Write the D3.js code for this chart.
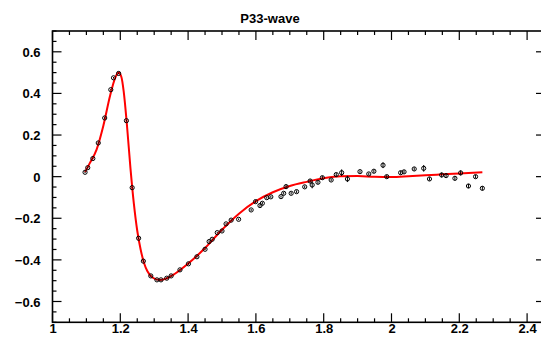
<!DOCTYPE html>
<html><head><meta charset="utf-8">
<script src="https://cdn.jsdelivr.net/npm/d3@7"></script>
<style>body{margin:0;background:#fff}svg{display:block}text{font-family:"Liberation Sans",Arial,sans-serif;font-weight:bold;fill:#000}</style>
</head><body><svg id="c" width="541" height="337"></svg>
<script>
const title = "P33-wave";
const xTicks = [1, 1.2, 1.4, 1.6, 1.8, 2, 2.2, 2.4];
const yTicks = [-0.6, -0.4, -0.2, 0, 0.2, 0.4, 0.6];
// data points
const ptX = [1.096,1.104,1.119,1.135,1.154,1.172,1.180,1.195,1.218,1.235,1.254,1.268,1.290,1.308,1.320,1.337,1.350,1.376,1.401,1.426,1.450,1.462,1.471,1.486,1.500,1.512,1.527,1.549,1.586,1.599,1.612,1.619,1.632,1.644,1.674,1.682,1.689,1.704,1.720,1.744,1.760,1.766,1.783,1.796,1.822,1.837,1.853,1.870,1.907,1.933,1.948,1.975,1.986,2.027,2.037,2.067,2.095,2.112,2.148,2.161,2.187,2.204,2.227,2.248,2.268];
const ptY = [0.021,0.043,0.087,0.162,0.282,0.418,0.475,0.496,0.269,-0.053,-0.296,-0.406,-0.477,-0.496,-0.496,-0.488,-0.477,-0.448,-0.419,-0.385,-0.349,-0.312,-0.301,-0.269,-0.261,-0.227,-0.209,-0.205,-0.160,-0.120,-0.139,-0.128,-0.101,-0.097,-0.096,-0.080,-0.048,-0.080,-0.072,-0.049,-0.021,-0.040,-0.027,-0.005,-0.016,0.010,0.019,-0.011,0.024,0.013,0.026,0.055,0.000,0.019,0.023,0.037,0.040,-0.011,0.008,0.005,-0.008,0.018,-0.045,0.000,-0.056];
const ptErr = [0.004,0.004,0.004,0.004,0.004,0.004,0.004,0.004,0.004,0.004,0.004,0.004,0.004,0.004,0.004,0.004,0.004,0.004,0.004,0.004,0.004,0.006,0.004,0.004,0.004,0.004,0.004,0.004,0.005,0.006,0.006,0.006,0.005,0.005,0.005,0.006,0.010,0.006,0.006,0.006,0.008,0.016,0.008,0.008,0.006,0.008,0.016,0.015,0.006,0.006,0.008,0.014,0.008,0.008,0.008,0.008,0.016,0.008,0.012,0.008,0.010,0.012,0.010,0.008,0.010];
// fit curve
const fitX = [1.096,1.11,1.13,1.15,1.17,1.185,1.195,1.203,1.21,1.22,1.23,1.24,1.25,1.26,1.27,1.28,1.295,1.315,1.335,1.36,1.40,1.45,1.50,1.55,1.60,1.65,1.70,1.75,1.80,1.85,1.90,1.95,2.00,2.05,2.10,2.15,2.20,2.268];
const fitY = [0.022,0.065,0.13,0.245,0.39,0.475,0.500,0.48,0.41,0.24,0.04,-0.13,-0.26,-0.35,-0.415,-0.455,-0.485,-0.497,-0.49,-0.468,-0.418,-0.343,-0.255,-0.178,-0.118,-0.075,-0.045,-0.025,-0.008,0.002,0.003,-0.001,-0.002,0.002,0.007,0.011,0.015,0.021];

const svg = d3.select("#c");
const L = 52.5, R = 545, T = 31, B = 322.3;
const x = d3.scaleLinear().domain([1, 1 + (R - L) / 339]).range([L, R]);
const y = d3.scaleLinear().domain([-0.7, 0.7]).range([B, T]);

const xMinor = d3.range(1, 2.46, 0.05).map(v => +v.toFixed(2));
const yMinor = d3.range(-0.7, 0.701, 0.05).map(v => +v.toFixed(2));

function isMajor(v, arr){ return arr.some(t => Math.abs(t - v) < 1e-6); }

// axes
const fmt = v => (v < 0 ? "\u2212" : "") + d3.format("")(Math.abs(+v.toFixed(2)));
svg.append("g").attr("transform", `translate(0,${B})`)
  .call(d3.axisBottom(x).tickValues(xTicks).tickSize(0).tickPadding(2).tickFormat(fmt))
  .call(g => { g.select(".domain").remove(); g.selectAll("text").attr("font-size", 13).attr("dy", "0.68em"); });
svg.append("g").attr("transform", `translate(${L},0)`)
  .call(d3.axisLeft(y).tickValues(yTicks).tickSize(0).tickPadding(12).tickFormat(fmt))
  .call(g => { g.select(".domain").remove(); g.selectAll("text").attr("font-size", 13).attr("dy", "0.35em"); });

// tick marks on all four sides
const tk = svg.append("g").attr("stroke", "#000").attr("stroke-width", 1.2);
xMinor.forEach(v => {
  const len = isMajor(v, xTicks) ? 9 : 4;
  tk.append("line").attr("x1", x(v)).attr("x2", x(v)).attr("y1", B).attr("y2", B - len);
  tk.append("line").attr("x1", x(v)).attr("x2", x(v)).attr("y1", T).attr("y2", T + len);
});
yMinor.forEach(v => {
  const len = isMajor(v, yTicks) ? 9 : 4;
  tk.append("line").attr("y1", y(v)).attr("y2", y(v)).attr("x1", L).attr("x2", L + len);
  tk.append("line").attr("y1", y(v)).attr("y2", y(v)).attr("x1", R).attr("x2", R - len);
});
svg.append("rect").attr("x", L).attr("y", T).attr("width", R - L).attr("height", B - T)
  .attr("fill", "none").attr("stroke", "#000").attr("stroke-width", 1.6);

// title
svg.append("text").attr("x", 270).attr("y", 23).attr("text-anchor", "middle").attr("font-size", 13).text(title);

// fit curve
const fit = fitX.map((v, i) => [v, fitY[i]]);
svg.append("path").datum(fit)
  .attr("d", d3.line().x(d => x(d[0])).y(d => y(d[1])).curve(d3.curveMonotoneX))
  .attr("fill", "none").attr("stroke", "#ff0000").attr("stroke-width", 2);

// points with error bars
const pts = ptX.map((v, i) => ({x: v, y: ptY[i], e: ptErr[i]}));
const pg = svg.append("g");
pg.selectAll("line.err").data(pts).join("line")
  .attr("x1", d => x(d.x)).attr("x2", d => x(d.x))
  .attr("y1", d => y(d.y - d.e)).attr("y2", d => y(d.y + d.e))
  .attr("stroke", "#000").attr("stroke-width", 1);
pg.selectAll("circle").data(pts).join("circle")
  .attr("cx", d => x(d.x)).attr("cy", d => y(d.y)).attr("r", 2.1)
  .attr("fill", "none").attr("stroke", "#000").attr("stroke-width", 1);
</script></body></html>
